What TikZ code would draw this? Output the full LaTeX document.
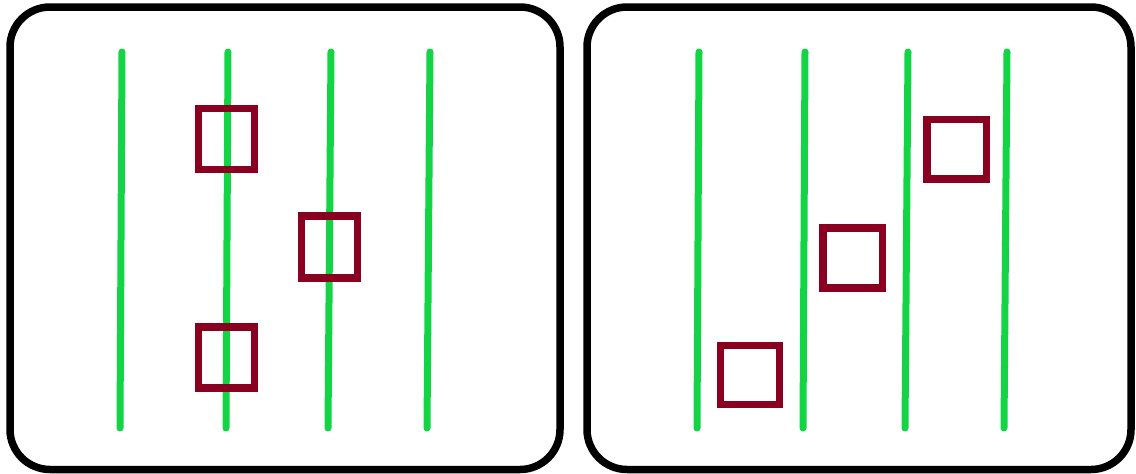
\documentclass[tikz,border=0pt]{standalone}
\definecolor{lanegreen}{RGB}{18,212,69}
\definecolor{boxred}{RGB}{137,0,32}
\begin{document}
\begin{tikzpicture}[x=1pt,y=-1pt,
  panel/.style={draw=black,line width=7.5pt,rounded corners=40pt},
  lane/.style={draw=lanegreen,line width=7pt,line cap=round},
  mark box/.style={draw=boxred,line width=7.3pt,inner sep=0pt,outer sep=0pt}]
\useasboundingbox (0,0) rectangle (1136,474);
% panels
\draw[panel] (10,7) rectangle (560,469.5);
\draw[panel] (587,7) rectangle (1131,469.5);
% left lanes
\draw[lane] (122,52) -- (120,428);
\draw[lane] (228,52) -- (226,428);
\draw[lane] (331,52) -- (328,428);
\draw[lane] (430,52) -- (427,428);
% right lanes
\draw[lane] (699,52) -- (697,428);
\draw[lane] (805,52) -- (803,428);
\draw[lane] (908,52) -- (905,428);
\draw[lane] (1007,52) -- (1004,428);
% left boxes
\node[mark box,minimum width=56pt,minimum height=61pt] (l1) at (226.8,139.2) {};
\node[mark box,minimum width=56pt,minimum height=62pt] (l2) at (329.7,247) {};
\node[mark box,minimum width=56pt,minimum height=61pt] (l3) at (226.8,357.5) {};
% right boxes
\node[mark box,minimum width=59.4pt,minimum height=59pt] (r1) at (750,375.3) {};
\node[mark box,minimum width=59.4pt,minimum height=60pt] (r2) at (852.7,258) {};
\node[mark box,minimum width=59.4pt,minimum height=59.3pt] (r3) at (956.7,149.3) {};
\end{tikzpicture}
\end{document}
